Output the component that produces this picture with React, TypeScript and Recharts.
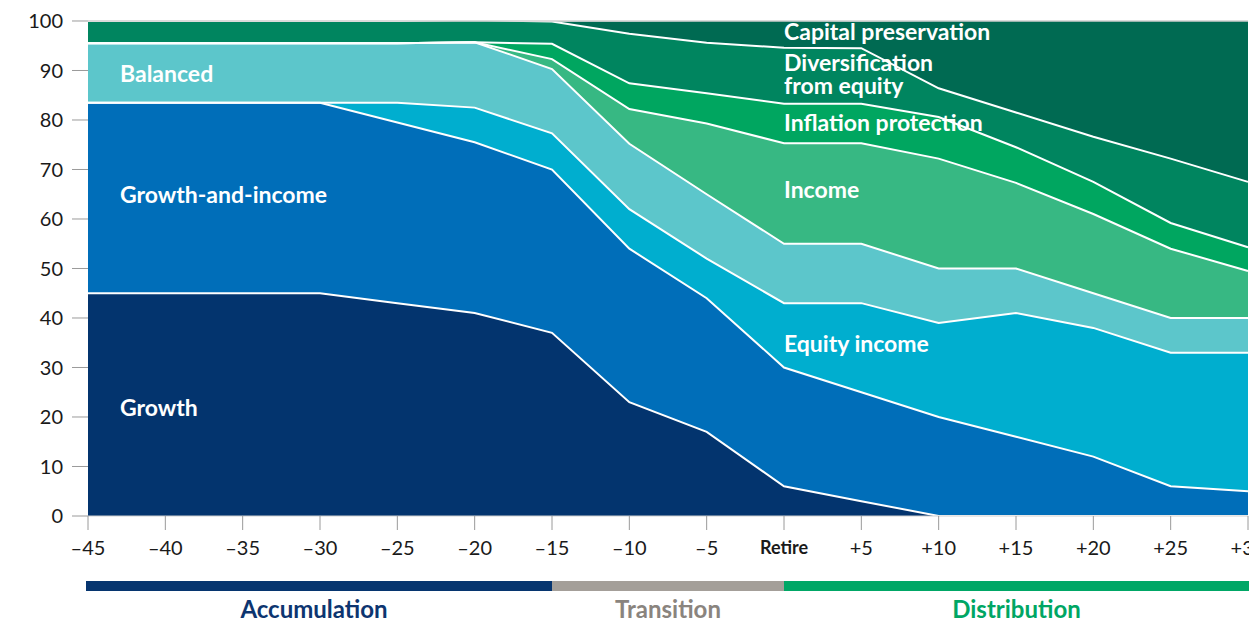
import React from 'react';
import { AreaChart, Area, XAxis, YAxis, ReferenceLine, ReferenceDot } from 'recharts';

const years = ['–45', '–40', '–35', '–30', '–25', '–20', '–15', '–10', '–5', 'Retire', '+5', '+10', '+15', '+20', '+25', '+30'];
const yTicks = [0, 10, 20, 30, 40, 50, 60, 70, 80, 90, 100];

const growth = [45, 45, 45, 45, 43, 41, 37, 23, 17, 6, 3, 0, 0, 0, 0, 0];
const growthAndIncome = [38.5, 38.5, 38.5, 38.5, 36.5, 34.5, 33, 31, 27, 24, 22, 20, 16, 12, 6, 5];
const equityIncome = [0, 0, 0, 0, 4, 7, 7.3, 8, 8, 13, 18, 19, 25, 26, 27, 28];
const balanced = [12, 12, 12, 12, 12, 13.2, 13, 13.2, 13, 12, 12, 11, 9, 7, 7, 7];
const income = [0, 0, 0, 0, 0, 0, 2, 7, 14.3, 20.3, 20.3, 22.2, 17.3, 16, 14, 9.5];
const inflationProtection = [0, 0, 0, 0, 0, 0, 3.1, 5.2, 6.1, 8, 8, 8.4, 7.2, 6.5, 5.2, 4.8];
const diversification = [4.5, 4.5, 4.5, 4.5, 4.5, 4.5, 4.5, 10, 10.2, 11.3, 11.2, 5.8, 7, 9.1, 13, 13.2];
const capitalPreservation = [0, 0, 0, 0, 0, 0, 0, 2.5, 4.4, 5.4, 5.4, 13.6, 18.5, 23.4, 27.8, 32.5];

const series = [
  { key: 'growth', color: '#03346e' },
  { key: 'growthAndIncome', color: '#006eb9' },
  { key: 'equityIncome', color: '#00aecf' },
  { key: 'balanced', color: '#5cc6cb' },
  { key: 'income', color: '#37b883' },
  { key: 'inflationProtection', color: '#00a660' },
  { key: 'diversification', color: '#00855f' },
  { key: 'capitalPreservation', color: '#006a52' },
];

const data = years.map((year, i) => ({
  year,
  growth: growth[i],
  growthAndIncome: growthAndIncome[i],
  equityIncome: equityIncome[i],
  balanced: balanced[i],
  income: income[i],
  inflationProtection: inflationProtection[i],
  diversification: diversification[i],
  capitalPreservation: capitalPreservation[i],
}));

// in-chart labels: [text, x category, y value, offset]
const areaLabels: [string, string, number, number][] = [
  ['Balanced', '–45', 89.4, 32],
  ['Growth-and-income', '–45', 64.8, 32],
  ['Growth', '–45', 21.9, 32],
  ['Capital preservation', 'Retire', 97.9, 0],
  ['Diversification', 'Retire', 91.5, 0],
  ['from equity', 'Retire', 86.9, 0],
  ['Inflation protection', 'Retire', 79.5, 0],
  ['Income', 'Retire', 65.8, 0],
  ['Equity income', 'Retire', 34.7, 0],
];

const phases = [
  { name: 'Accumulation', from: '–45', to: '–15', bar: '#06356f', text: '#0d3570' },
  { name: 'Transition', from: '–15', to: 'Retire', bar: '#a49f99', text: '#8a847e' },
  { name: 'Distribution', from: 'Retire', to: '+30', bar: '#00a766', text: '#00a664' },
];

const FONT = 'Lato, "Noto Sans", sans-serif';
const CHART_W = 1290;
const MARGIN = { top: 20, right: 42, bottom: 24, left: 0 };
const Y_W = 88;
const PLOT_L = MARGIN.left + Y_W;
const PLOT_R = CHART_W - MARGIN.right;
const STEP = (PLOT_R - PLOT_L) / (years.length - 1);
const posOf = (c: string) => PLOT_L + years.indexOf(c) * STEP;

const XTick = (props: any) => {
  const { x, y, payload } = props;
  const retire = payload.value === 'Retire';
  return (
    <text
      x={x}
      y={y}
      dy="0.71em"
      textAnchor="middle"
      fill="#1a1a1a"
      fontFamily={FONT}
      fontSize={retire ? 18 : 20}
      fontWeight={retire ? 700 : 400}
    >
      {payload.value}
    </text>
  );
};

export default function App() {
  return (
    <div
      style={{
        position: 'fixed',
        left: 0,
        top: 0,
        width: 1249,
        height: 624,
        overflow: 'hidden',
        background: '#fff',
        fontFamily: FONT,
      }}
    >
      <AreaChart width={CHART_W} height={580} data={data} margin={MARGIN}>
        <XAxis
          dataKey="year"
          height={40}
          interval={0}
          tickSize={14}
          tickMargin={11}
          tickLine={{ stroke: '#9a9a9a' }}
          axisLine={{ stroke: '#cfcfcf' }}
          tick={<XTick />}
        />
        <YAxis
          width={Y_W}
          domain={[0, 100]}
          ticks={yTicks}
          interval={0}
          tickSize={16}
          tickMargin={9}
          axisLine={false}
          tickLine={{ stroke: '#9a9a9a' }}
          tick={{ fill: '#1a1a1a', fontSize: 20, fontFamily: FONT }}
        />
        {series.map((s) => (
          <Area
            key={'f-' + s.key}
            type="linear"
            dataKey={s.key}
            stackId="fill"
            stroke="none"
            fill={s.color}
            fillOpacity={1}
            isAnimationActive={false}
            activeDot={false}
          />
        ))}
        {series.map((s) => (
          <Area
            key={'l-' + s.key}
            type="linear"
            dataKey={s.key}
            stackId="line"
            stroke={s.key === 'capitalPreservation' ? 'none' : '#ffffff'}
            strokeWidth={2}
            fill="none"
            isAnimationActive={false}
            activeDot={false}
          />
        ))}
        <ReferenceLine y={100} stroke="#cfcfcf" strokeWidth={1.5} />
        {areaLabels.map(([text, x, y, off]) => (
          <ReferenceDot
            key={text}
            x={x}
            y={y}
            r={0}
            fill="none"
            stroke="none"
            label={{
              value: text,
              position: 'right',
              offset: off,
              fill: '#ffffff',
              fontSize: 23,
              fontWeight: 700,
              fontFamily: FONT,
            }}
          />
        ))}
      </AreaChart>
      <svg
        width={1249}
        height={624}
        style={{ position: 'absolute', left: 0, top: 0, pointerEvents: 'none' }}
      >
        {phases.map((p, i) => {
          const x1 = i === 0 ? posOf(p.from) - 2 : posOf(p.from);
          const x2 = i === phases.length - 1 ? 1249 : posOf(p.to);
          return (
            <g key={p.name}>
              <rect x={x1} y={581} width={x2 - x1} height={10} fill={p.bar} />
              <text
                x={(x1 + x2) / 2 - (i === 0 ? 5 : 0)}
                y={618}
                textAnchor="middle"
                fill={p.text}
                fontFamily={FONT}
                fontSize={24}
                fontWeight={700}
              >
                {p.name}
              </text>
            </g>
          );
        })}
      </svg>
    </div>
  );
}
